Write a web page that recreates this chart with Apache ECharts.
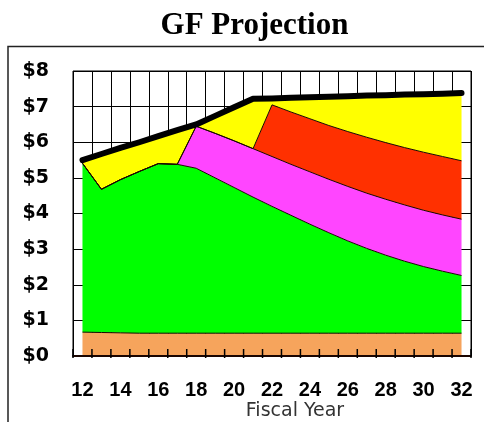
<!DOCTYPE html>
<html>
<head>
<meta charset="utf-8">
<title>GF Projection</title>
<script src="https://cdn.jsdelivr.net/npm/echarts@6/dist/echarts.min.js"></script>
<style>
  html, body { margin: 0; padding: 0; background: #fff; }
  #chart { width: 484px; height: 422px; }
</style>
</head>
<body>
<div id="chart"></div>
<script>
// Fiscal years (20xx)
const years = ['12','13','14','15','16','17','18','19','20','21','22','23','24','25','26','27','28','29','30','31','32'];

// Stacked layers, $ billions per year (bottom to top)
const orangeLayer  = [0.67,0.66,0.65,0.64,0.64,0.64,0.64,0.64,0.64,0.64,0.64,0.64,0.64,0.64,0.64,0.64,0.64,0.64,0.64,0.64,0.64];
const greenLayer   = [4.74,4.02,4.30,4.54,4.76,4.74,4.63,4.36,4.09,3.82,3.56,3.31,3.06,2.82,2.59,2.38,2.19,2.02,1.87,1.74,1.62];
const magentaLayer = [0,0,0,0,0,0,1.18,1.25,1.31,1.36,1.40,1.43,1.47,1.50,1.53,1.55,1.57,1.58,1.58,1.58,1.58];
const redLayer     = [0,0,0,0,0,0,0,0,0,0,1.45,1.47,1.49,1.51,1.54,1.57,1.59,1.61,1.63,1.64,1.64];
const yellowLayer  = [0.09,0.99,0.89,0.82,0.77,0.96,0.05,0.49,0.94,1.40,0.18,0.40,0.60,0.81,0.99,1.17,1.33,1.49,1.63,1.76,1.90];

// Projected general fund total
const totalLine = [5.50,5.67,5.84,6.00,6.17,6.34,6.50,6.74,6.98,7.22,7.23,7.25,7.26,7.28,7.29,7.31,7.32,7.34,7.35,7.36,7.38];

const layers = [
  { data: orangeLayer,  color: '#F6A45C' },
  { data: greenLayer,   color: '#00FF00' },
  { data: magentaLayer, color: '#FF45FF' },
  { data: redLayer,     color: '#FF3000' },
  { data: yellowLayer,  color: '#FFFF00' }
];

const chart = echarts.init(document.getElementById('chart'), null, { renderer: 'canvas' });

const areaSeries = layers.map((l, i) => ({
  type: 'line',
  stack: 'gf',
  data: l.data,
  symbol: 'none',
  lineStyle: { color: '#1a0800', width: i === layers.length - 1 ? 0 : 1 },
  areaStyle: { color: l.color, opacity: 1 },
  itemStyle: { color: l.color },
  emphasis: { disabled: true }
}));

// Short tick marks on the category boundaries, drawn on top of the areas
const boundaryTicks = {
  type: 'custom',
  data: years.map((y, i) => [i, 0]),
  z: 10,
  silent: true,
  clip: false,
  renderItem: (params, api) => {
    const c = api.coord([api.value(0), 0]);
    const w = api.size([1, 0])[0];
    const xs = [c[0] - w / 2];
    if (params.dataIndex === years.length - 1) xs.push(c[0] + w / 2);
    return {
      type: 'group',
      children: xs.map(x => ({
        type: 'line',
        z2: 100,
        shape: { x1: x, y1: c[1] + 2, x2: x, y2: c[1] - 7 },
        style: { stroke: '#000', lineWidth: 1.5 }
      }))
    };
  }
};

chart.setOption({
  animation: false,
  backgroundColor: '#fff',
  grid: {
    left: 73, right: 13, top: 71, bottom: 66,
    show: true, borderColor: '#000', borderWidth: 1
  },
  xAxis: [
    {
      // labels and base line
      type: 'category',
      data: years,
      z: 10,
      axisLine: { show: true, lineStyle: { color: '#1a0500', width: 2 } },
      axisTick: { show: false },
      splitLine: { show: false },
      axisLabel: {
        interval: 1,
        margin: 24,
        color: '#000',
        fontFamily: 'Liberation Sans',
        fontWeight: 'bold',
        fontSize: 20
      }
    },
    {
      // vertical grid lines behind the areas
      type: 'category',
      data: years,
      position: 'bottom',
      offset: 0,
      z: 0,
      axisLine: { show: false },
      axisTick: { show: false },
      axisLabel: { show: false },
      splitLine: { show: true, interval: 0, lineStyle: { color: '#000', width: 1 } }
    }
  ],
  yAxis: {
    type: 'value',
    min: 0, max: 8, interval: 1,
    axisLine: { show: false },
    axisTick: { show: false },
    splitLine: { show: true, lineStyle: { color: '#000', width: 1 } },
    axisLabel: {
      margin: 24,
      color: '#000',
      fontFamily: 'DejaVu Sans',
      fontWeight: 'bold',
      fontSize: 19,
      formatter: v => '$' + v
    }
  },
  series: areaSeries.concat([{
    type: 'line',
    data: totalLine,
    symbol: 'none',
    z: 5,
    lineStyle: { color: '#000', width: 6, cap: 'round', join: 'round' },
    emphasis: { disabled: true }
  }, boundaryTicks]),
  graphic: [
    {
      type: 'rect',
      z: -1,
      shape: { x: 8, y: 46.5, width: 490, height: 400 },
      style: { fill: 'none', stroke: '#222', lineWidth: 1.5 }
    },
    {
      type: 'text',
      x: 254.5, y: 26,
      style: {
        text: 'GF Projection',
        fontFamily: 'Liberation Serif',
        fontWeight: 'bold',
        fontSize: 31,
        fill: '#000',
        align: 'center',
        verticalAlign: 'middle'
      }
    },
    {
      type: 'text',
      x: 295, y: 411,
      style: {
        text: 'Fiscal Year',
        fontFamily: 'DejaVu Sans',
        fontSize: 19,
        fill: '#333',
        align: 'center',
        verticalAlign: 'middle'
      }
    }
  ]
});
</script>
</body>
</html>
